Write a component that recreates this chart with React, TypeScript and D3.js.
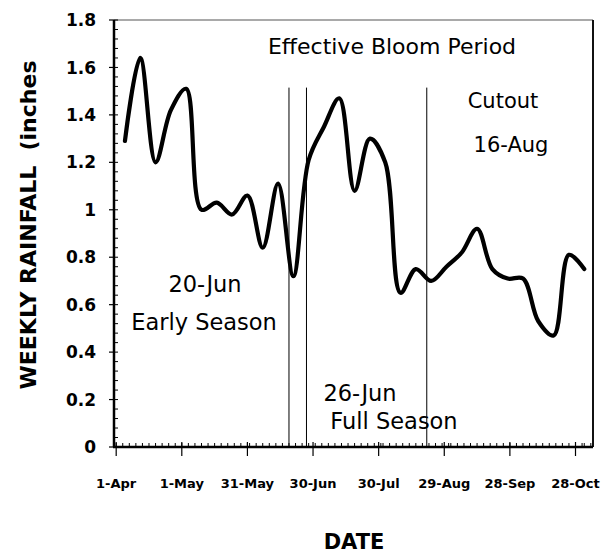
import { useEffect, useRef } from 'react';
import * as d3 from 'd3';

// weekly rainfall (dates are day-month, year is arbitrary)
const weekDates = [
  '5-Apr', '12-Apr', '19-Apr', '26-Apr', '3-May', '10-May', '17-May', '24-May',
  '31-May', '7-Jun', '14-Jun', '21-Jun', '28-Jun', '5-Jul', '12-Jul', '19-Jul',
  '26-Jul', '2-Aug', '9-Aug', '16-Aug', '23-Aug', '30-Aug', '6-Sep', '13-Sep',
  '20-Sep', '27-Sep', '4-Oct', '11-Oct', '18-Oct', '25-Oct', '1-Nov',
];
const rainfall = [
  1.29, 1.64, 1.2, 1.42, 1.51, 1.0, 1.03, 0.98,
  1.06, 0.84, 1.11, 0.72, 1.21, 1.35, 1.47, 1.08,
  1.3, 1.2, 0.65, 0.75, 0.7, 0.76, 0.82, 0.92,
  0.75, 0.71, 0.71, 0.53, 0.47, 0.81, 0.75,
];

const xTickLabels = ['1-Apr', '1-May', '31-May', '30-Jun', '30-Jul', '29-Aug', '28-Sep', '28-Oct'];
const yTicks = [0, 0.2, 0.4, 0.6, 0.8, 1, 1.2, 1.4, 1.6, 1.8];
const markerDates = ['19-Jun', '27-Jun', '21-Aug'];

const W = 613;
const H = 557;
const YEAR = 1999;
const parse = d3.utcParse('%d-%b-%Y');
const toDate = (s: string) => parse(`${s}-${YEAR}`) as Date;

export default function App() {
  const ref = useRef<SVGSVGElement>(null);

  useEffect(() => {
    if (!ref.current) return;
    const svg = d3.select(ref.current);
    svg.selectAll('*').remove();

    const left = 114;
    const right = 593;
    const top = 20;
    const bottom = 447;

    const x = d3.scaleUtc().domain([toDate('31-Mar'), toDate('5-Nov')]).range([left, right]);
    const y = d3.scaleLinear().domain([0, 1.8]).range([bottom, top]);

    const font = 'DejaVu Sans, Arial, sans-serif';

    // frame: thin top, darker right
    svg.append('line').attr('x1', left).attr('x2', right).attr('y1', top).attr('y2', top)
      .attr('stroke', '#555').attr('stroke-width', 1.2);
    svg.append('line').attr('x1', right).attr('x2', right).attr('y1', top).attr('y2', bottom)
      .attr('stroke', '#111').attr('stroke-width', 2);

    // x minor ticks (inside) every 3 days
    const minorX = d3.utcDay.every(3)!.range(toDate('1-Apr'), toDate('5-Nov'));
    svg.append('g').selectAll('line').data(minorX).join('line')
      .attr('x1', (d) => x(d)).attr('x2', (d) => x(d))
      .attr('y1', bottom).attr('y2', bottom - 4)
      .attr('stroke', '#000').attr('stroke-width', 1);

    // x major ticks (outside)
    const xTicks = xTickLabels.map(toDate);
    svg.append('g').selectAll('line').data(xTicks).join('line')
      .attr('x1', (d) => x(d)).attr('x2', (d) => x(d))
      .attr('y1', bottom - 5).attr('y2', bottom + 9)
      .attr('stroke', '#000').attr('stroke-width', 1.2);

    svg.append('g').selectAll('text').data(xTickLabels).join('text')
      .attr('x', (d) => x(toDate(d)))
      .attr('y', 488)
      .attr('text-anchor', 'middle')
      .attr('font-family', font)
      .attr('font-weight', 'bold')
      .attr('font-size', 13)
      .text((d) => d);

    // y minor ticks (inside) every 0.04
    const minorY = d3.range(0, 1.8001, 0.04);
    svg.append('g').selectAll('line').data(minorY).join('line')
      .attr('x1', left).attr('x2', left + 4)
      .attr('y1', (d) => y(d)).attr('y2', (d) => y(d))
      .attr('stroke', '#000').attr('stroke-width', 1);

    svg.append('g').selectAll('line').data(yTicks).join('line')
      .attr('x1', left - 5).attr('x2', left)
      .attr('y1', (d) => y(d)).attr('y2', (d) => y(d))
      .attr('stroke', '#000').attr('stroke-width', 1.2);

    svg.append('g').selectAll('text').data(yTicks).join('text')
      .attr('x', 96)
      .attr('y', (d) => y(d))
      .attr('dy', '0.36em')
      .attr('text-anchor', 'end')
      .attr('font-family', font)
      .attr('font-weight', 'bold')
      .attr('font-size', 17)
      .text((d) => String(+d.toFixed(1)));

    // axes
    svg.append('line').attr('x1', left).attr('x2', left).attr('y1', top).attr('y2', bottom)
      .attr('stroke', '#000').attr('stroke-width', 2.5);
    svg.append('line').attr('x1', left - 1).attr('x2', right).attr('y1', bottom).attr('y2', bottom)
      .attr('stroke', '#000').attr('stroke-width', 2.5);

    // season marker lines
    svg.append('g').selectAll('line').data(markerDates.map(toDate)).join('line')
      .attr('x1', (d) => x(d)).attr('x2', (d) => x(d))
      .attr('y1', y(1.515)).attr('y2', bottom)
      .attr('stroke', '#000').attr('stroke-width', 1);

    // rainfall curve
    const pts = weekDates.map((d, i) => [toDate(d), rainfall[i]] as [Date, number]);
    const line = d3.line<[Date, number]>()
      .x((d) => x(d[0]))
      .y((d) => y(d[1]))
      .curve(d3.curveCatmullRom.alpha(0.5));
    svg.append('path')
      .attr('d', line(pts) ?? '')
      .attr('fill', 'none')
      .attr('stroke', '#000')
      .attr('stroke-width', 4.2)
      .attr('stroke-linejoin', 'round')
      .attr('stroke-linecap', 'round');

    // annotations
    const notes: [string, number, number, number][] = [
      ['Effective Bloom Period', 392, 54, 22],
      ['Cutout', 503, 108, 21],
      ['16-Aug', 511, 152, 21],
      ['20-Jun', 205, 292, 22.5],
      ['Early Season', 204, 330, 22.5],
      ['26-Jun', 360, 401, 22.5],
      ['Full Season', 394, 429, 22.5],
    ];
    svg.append('g').selectAll('text').data(notes).join('text')
      .attr('x', (d) => d[1])
      .attr('y', (d) => d[2])
      .attr('text-anchor', 'middle')
      .attr('font-family', font)
      .attr('font-size', (d) => d[3])
      .attr('fill', '#000')
      .text((d) => d[0]);

    // axis titles
    svg.append('text')
      .attr('x', 354).attr('y', 549)
      .attr('text-anchor', 'middle')
      .attr('font-family', font)
      .attr('font-weight', 'bold')
      .attr('font-size', 21)
      .text('DATE');

    svg.append('text')
      .attr('transform', 'translate(36,225) rotate(-90)')
      .attr('text-anchor', 'middle')
      .attr('font-family', font)
      .attr('font-weight', 'bold')
      .attr('font-size', 22)
      .attr('xml:space', 'preserve')
      .style('white-space', 'pre')
      .text('WEEKLY RAINFALL  (inches');
  }, []);

  return (
    <svg
      ref={ref}
      width={W}
      height={H}
      style={{ position: 'absolute', left: 0, top: 0, background: '#fff' }}
    />
  );
}
